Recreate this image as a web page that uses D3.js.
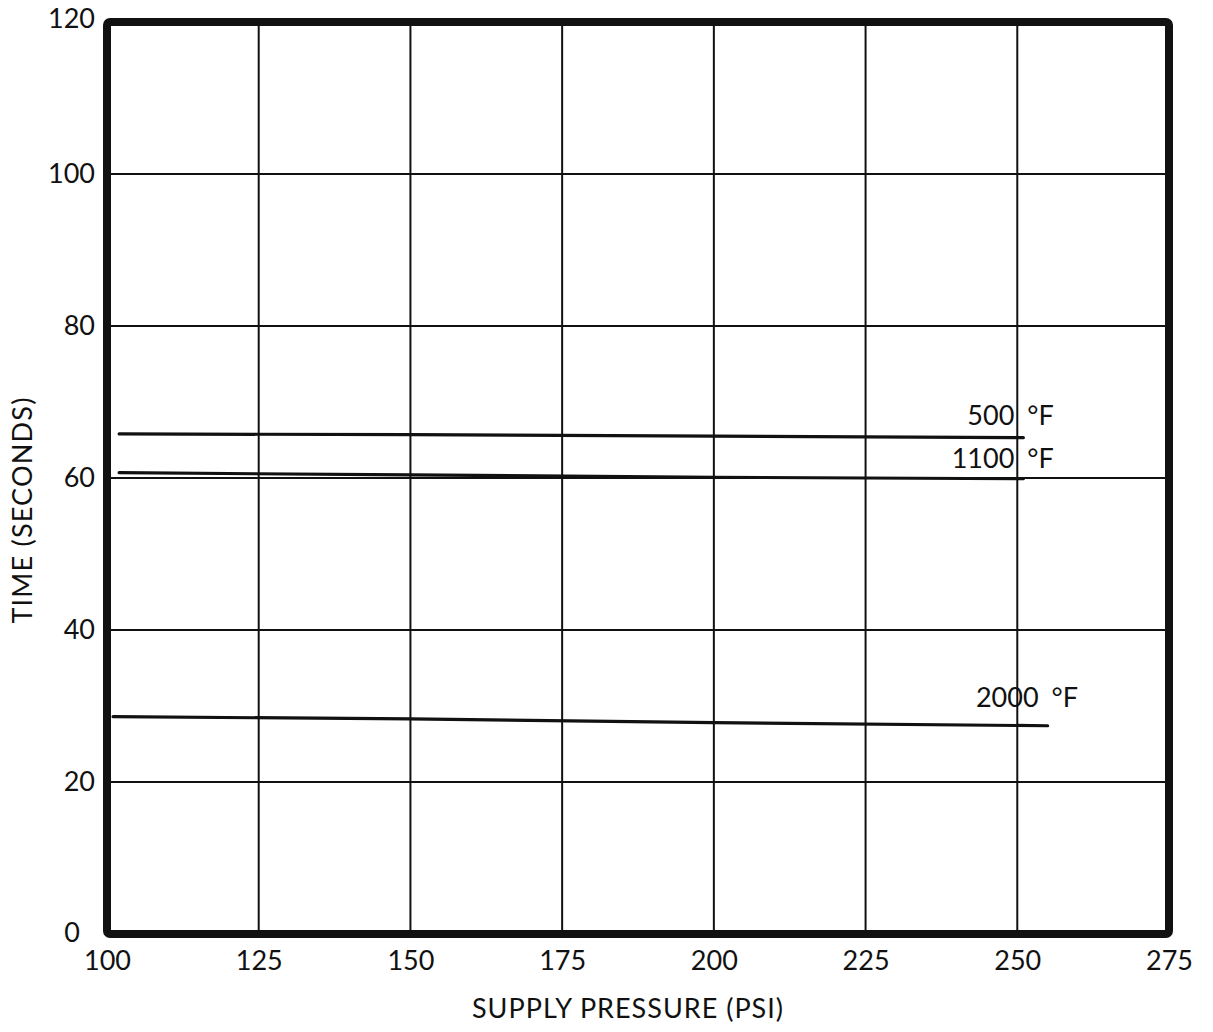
<!DOCTYPE html>
<html>
<head>
<meta charset="utf-8">
<script src="https://cdn.jsdelivr.net/npm/d3@7"></script>
<style>
  html, body { margin: 0; padding: 0; background: #fff; }
  svg text { font-family: "Lato", "Open Sans", sans-serif; fill: #111; }
</style>
</head>
<body>
<script>
// Pressure ticks (PSI) and time ticks (seconds)
const xTicks = [100, 125, 150, 175, 200, 225, 250, 275];
const yTicks = [0, 20, 40, 60, 80, 100, 120];

// Time vs. supply pressure, one series per temperature
const series500 = [[102, 65.8], [150, 65.7], [200, 65.5], [251, 65.3]];
const series1100 = [[102, 60.7], [150, 60.4], [200, 60.1], [251, 59.9]];
const series2000 = [[101, 28.6], [150, 28.3], [200, 27.8], [255, 27.4]];
const seriesTemps = ["500", "1100", "2000"];

const W = 1213, H = 1032;
const margin = { left: 107, right: W - 1169, top: 22, bottom: H - 934 };
const FONT = "Lato, 'Open Sans', sans-serif";

const svg = d3.select("body").append("svg")
  .attr("width", W).attr("height", H);

const x = d3.scaleLinear().domain([100, 275]).range([margin.left, W - margin.right]);
const y = d3.scaleLinear().domain([0, 120]).range([H - margin.bottom, margin.top]);

// grid
const grid = svg.append("g").attr("stroke", "#111").attr("stroke-width", 2);
grid.selectAll("line.v").data(xTicks.slice(1, -1)).join("line")
  .attr("x1", d => x(d)).attr("x2", d => x(d))
  .attr("y1", y(0)).attr("y2", y(120));
grid.selectAll("line.h").data(yTicks.slice(1, -1)).join("line")
  .attr("x1", x(100)).attr("x2", x(275))
  .attr("y1", d => y(d)).attr("y2", d => y(d));

// heavy frame
svg.append("rect")
  .attr("x", x(100)).attr("y", y(120))
  .attr("width", x(275) - x(100)).attr("height", y(0) - y(120))
  .attr("rx", 3)
  .attr("fill", "none").attr("stroke", "#111").attr("stroke-width", 8);

// axes (labels only; the frame and grid draw the lines)
const xAxis = d3.axisBottom(x).tickValues(xTicks).tickSize(0).tickPadding(17);
const gx = svg.append("g").attr("transform", `translate(0,${y(0)})`).call(xAxis);
gx.select(".domain").remove();
gx.selectAll("text").attr("font-size", 27).style("font-family", FONT).attr("fill", "#111");

const yAxis = d3.axisLeft(y).tickValues(yTicks).tickSize(0).tickPadding(12);
const gy = svg.append("g").attr("transform", `translate(${x(100)},0)`).call(yAxis);
gy.select(".domain").remove();
gy.selectAll("text").attr("font-size", 27).style("font-family", FONT).attr("fill", "#111");
gy.selectAll(".tick").filter(d => d === 0).select("text").attr("dx", -15).attr("dy", "0.28em");
gy.selectAll(".tick").filter(d => d === 120).select("text").attr("dy", "0.2em");

// axis titles
svg.append("text")
  .attr("x", 628).attr("y", 1018)
  .attr("text-anchor", "middle").attr("font-size", 27)
  .attr("letter-spacing", 1)
  .text("SUPPLY PRESSURE (PSI)");

svg.append("text")
  .attr("transform", "translate(32,510) rotate(-90)")
  .attr("text-anchor", "middle").attr("font-size", 27)
  .attr("letter-spacing", 1.2)
  .text("TIME (SECONDS)");

// data lines
const line = d3.line().x(d => x(d[0])).y(d => y(d[1]));
const allSeries = [series500, series1100, series2000];
svg.append("g").selectAll("path").data(allSeries).join("path")
  .attr("d", line)
  .attr("fill", "none").attr("stroke", "#111").attr("stroke-width", 3.2)
  .attr("stroke-linecap", "round");

// curve labels placed above each line's right end
const labelPos = [
  { px: 256, dy: -13 },
  { px: 256, dy: -11 },
  { px: 260, dy: -19 }
];
const labels = svg.append("g").selectAll("text").data(allSeries).join("text")
  .attr("x", (d, i) => x(labelPos[i].px))
  .attr("y", (d, i) => y(d[d.length - 1][1]) + labelPos[i].dy)
  .attr("text-anchor", "end")
  .attr("font-size", 27);
labels.append("tspan").text((d, i) => seriesTemps[i] + "\u00a0");
labels.append("tspan").attr("dx", 6).text("°F");
</script>
</body>
</html>
